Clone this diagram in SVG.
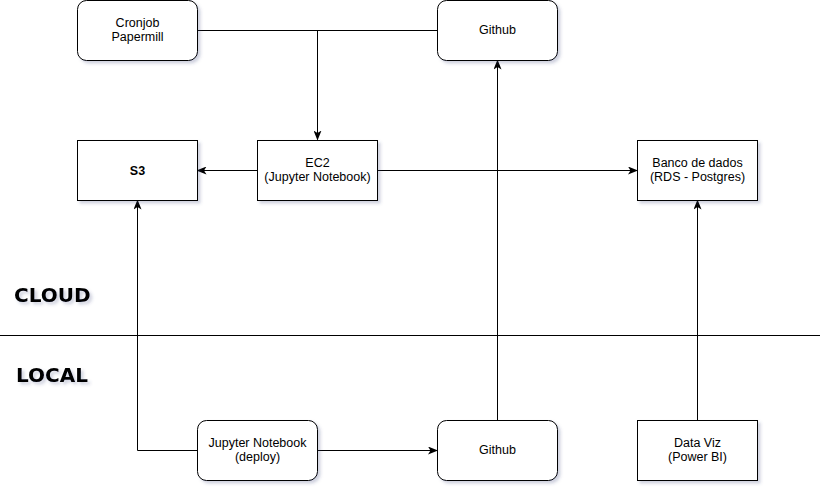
<svg xmlns="http://www.w3.org/2000/svg" width="832" height="492" viewBox="0 0 832 492">
<style>
.box{fill:#fff;stroke:#000;stroke-width:1;filter:url(#sh)}
.t{font-family:"Liberation Sans",Arial,sans-serif;font-size:12.5px;fill:#000;text-anchor:middle}
.b{font-weight:bold}
.big{font-family:"DejaVu Sans",Verdana,sans-serif;font-size:20px;font-weight:bold;fill:#000;filter:url(#sh)}
.c{fill:none;stroke:#000;stroke-width:1}
</style>
<defs>
<filter id="sh" x="-20%" y="-20%" width="140%" height="140%">
<feDropShadow dx="2.5" dy="2.5" stdDeviation="1.5" flood-color="#3c4a7a" flood-opacity="0.25"/>
</filter>
<marker id="ar" viewBox="0 0 10 8" refX="9" refY="4" markerWidth="10" markerHeight="8" markerUnits="userSpaceOnUse" orient="auto">
<path d="M0,0 L10,4 L0,8 L2.5,4 z" fill="#000"/>
</marker>
</defs>
<g id="connectors">
<path class="c" d="M197.5,30.5 H437.5"/>
<path class="c" d="M317.5,30.5 V139.5" marker-end="url(#ar)"/>
<path class="c" d="M257.5,170.5 H197.5" marker-end="url(#ar)"/>
<path class="c" d="M377.5,170.5 H637" marker-end="url(#ar)"/>
<path class="c" d="M497.5,420.5 V60.5" marker-end="url(#ar)"/>
<path class="c" d="M697.5,420.5 V200.5" marker-end="url(#ar)"/>
<path class="c" d="M317.5,450.5 H437" marker-end="url(#ar)"/>
<path class="c" d="M197.5,450.5 H137.5 V200.5" marker-end="url(#ar)"/>
<path class="c" d="M0,335.5 H820"/>
</g>
<g id="cronjob"><rect class="box" x="77.5" y="0.5" width="120" height="60" rx="9"/><text class="t" x="137.5" y="27">Cronjob</text><text class="t" x="137.5" y="41">Papermill</text></g>
<g id="github-top"><rect class="box" x="437.5" y="0.5" width="120" height="60" rx="9"/><text class="t" x="497.5" y="34">Github</text></g>
<g id="s3"><rect class="box" x="77.5" y="140.5" width="120" height="60"/><text class="t b" x="137.5" y="175">S3</text></g>
<g id="ec2"><rect class="box" x="257.5" y="140.5" width="120" height="60"/><text class="t" x="317.5" y="167">EC2</text><text class="t" x="317.5" y="181">(Jupyter Notebook)</text></g>
<g id="banco"><rect class="box" x="637.5" y="140.5" width="120" height="60"/><text class="t" x="697.5" y="167">Banco de dados</text><text class="t" x="697.5" y="181">(RDS - Postgres)</text></g>
<g id="jupyter"><rect class="box" x="197.5" y="420.5" width="120" height="60" rx="9"/><text class="t" x="257.5" y="447">Jupyter Notebook</text><text class="t" x="257.5" y="461">(deploy)</text></g>
<g id="github-bottom"><rect class="box" x="437.5" y="420.5" width="120" height="60" rx="9"/><text class="t" x="497.5" y="454">Github</text></g>
<g id="dataviz"><rect class="box" x="637.5" y="420.5" width="120" height="60"/><text class="t" x="697.5" y="447">Data Viz</text><text class="t" x="697.5" y="461">(Power BI)</text></g>
<g id="labels"><text class="big" x="14" y="302">CLOUD</text><text class="big" x="16" y="382">LOCAL</text></g>
</svg>
